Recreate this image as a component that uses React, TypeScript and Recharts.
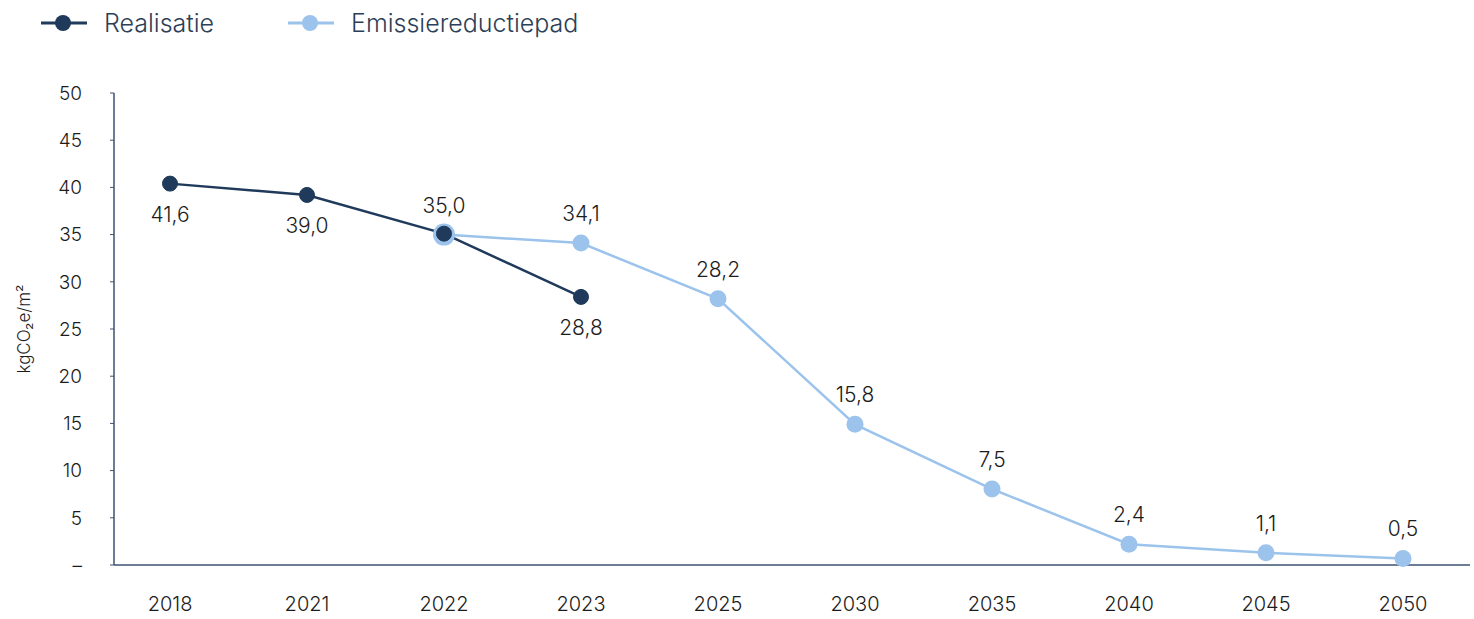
import { LineChart, Line, XAxis, YAxis, LabelList } from "recharts";

const years = ["2018", "2021", "2022", "2023", "2025", "2030", "2035", "2040", "2045", "2050"];

// Realisatie: plotted positions and the printed labels
const realisatie = [40.4, 39.2, 35.1, 28.4, null, null, null, null, null, null];
const realisatieLabels = ["41,6", "39,0", "", "28,8", "", "", "", "", "", ""];

// Emissiereductiepad
const reductiepad = [null, null, 35.0, 34.1, 28.2, 14.9, 8.05, 2.2, 1.3, 0.7];
const reductiepadLabels = ["", "", "35,0", "34,1", "28,2", "15,8", "7,5", "2,4", "1,1", "0,5"];

const yTicks = [0, 5, 10, 15, 20, 25, 30, 35, 40, 45, 50];

const DARK = "#1f3a5a";
const LIGHT = "#9cc3ec";
const AXIS = "#3b5270";
const TEXT = "#1c1c1c";
const FONT = "Inter, 'Open Sans', sans-serif";

const data = years.map((year, i) => ({
  year,
  real: realisatie[i],
  realLabel: realisatieLabels[i],
  pad: reductiepad[i],
  padLabel: reductiepadLabels[i],
}));

// light dot gets a bigger ring where the realised value sits on top of it
const PadDot = (props: any) => {
  const { cx, cy, payload, index } = props;
  if (cx == null || cy == null || payload.pad == null) return <g key={index} />;
  const overlap = payload.real != null && Math.abs(payload.real - payload.pad) < 1;
  return <circle key={index} cx={cx} cy={cy} r={overlap ? 11 : 8.5} fill={LIGHT} />;
};

const LegendItem = ({ color, text, x }: { color: string; text: string; x: number }) => (
  <div style={{ position: "absolute", left: x, top: 8, display: "flex", alignItems: "center" }}>
    <svg width={46} height={30}>
      <line x1={0} y1={15} x2={46} y2={15} stroke={color} strokeWidth={3} />
      <circle cx={22} cy={15} r={8} fill={color} />
    </svg>
    <span style={{ marginLeft: 17, fontSize: 25, fontWeight: 300, color: "#2d3f58", fontFamily: FONT }}>
      {text}
    </span>
  </div>
);

export default function App() {
  return (
    <div style={{ position: "absolute", left: 0, top: 0, width: 1474, height: 619, background: "#fff" }}>
      <LegendItem color={DARK} text="Realisatie" x={41} />
      <LegendItem color={LIGHT} text="Emissiereductiepad" x={288} />
      <LineChart
        width={1474}
        height={619}
        data={data}
        margin={{ top: 93, right: 4, bottom: 0, left: 0 }}
        style={{ fontFamily: FONT }}
      >
        <XAxis
          dataKey="year"
          axisLine={{ stroke: AXIS, strokeWidth: 1.5 }}
          tickLine={false}
          tickMargin={26}
          height={54}
          padding={{ left: 56, right: 67 }}
          tick={{ fill: TEXT, fontSize: 20, fontWeight: 300 }}
        />
        <YAxis
          width={114}
          domain={[0, 50]}
          ticks={yTicks}
          interval={0}
          axisLine={{ stroke: AXIS, strokeWidth: 1.5 }}
          tickLine={{ stroke: AXIS }}
          tickSize={4}
          tickMargin={28}
          tickFormatter={(v: number) => (v === 0 ? "–" : String(v))}
          tick={{ fill: TEXT, fontSize: 19, fontWeight: 300 }}
          label={{
            value: "kgCO₂e/m²",
            angle: -90,
            position: "insideLeft",
            offset: 24,
            style: { fill: TEXT, fontSize: 17, fontWeight: 300, textAnchor: "middle" },
          }}
        />
        <Line
          dataKey="pad"
          stroke={LIGHT}
          strokeWidth={2.5}
          dot={PadDot}
          activeDot={false}
          isAnimationActive={false}
          connectNulls={false}
        >
          <LabelList dataKey="padLabel" position="top" offset={22} fill={TEXT} fontSize={21} fontWeight={300} />
        </Line>
        <Line
          dataKey="real"
          stroke={DARK}
          strokeWidth={2.5}
          dot={{ r: 7.5, fill: DARK, stroke: DARK, strokeWidth: 1 }}
          activeDot={false}
          isAnimationActive={false}
          connectNulls={false}
        >
          <LabelList dataKey="realLabel" position="bottom" offset={23} fill={TEXT} fontSize={21} fontWeight={300} />
        </Line>
      </LineChart>
    </div>
  );
}
